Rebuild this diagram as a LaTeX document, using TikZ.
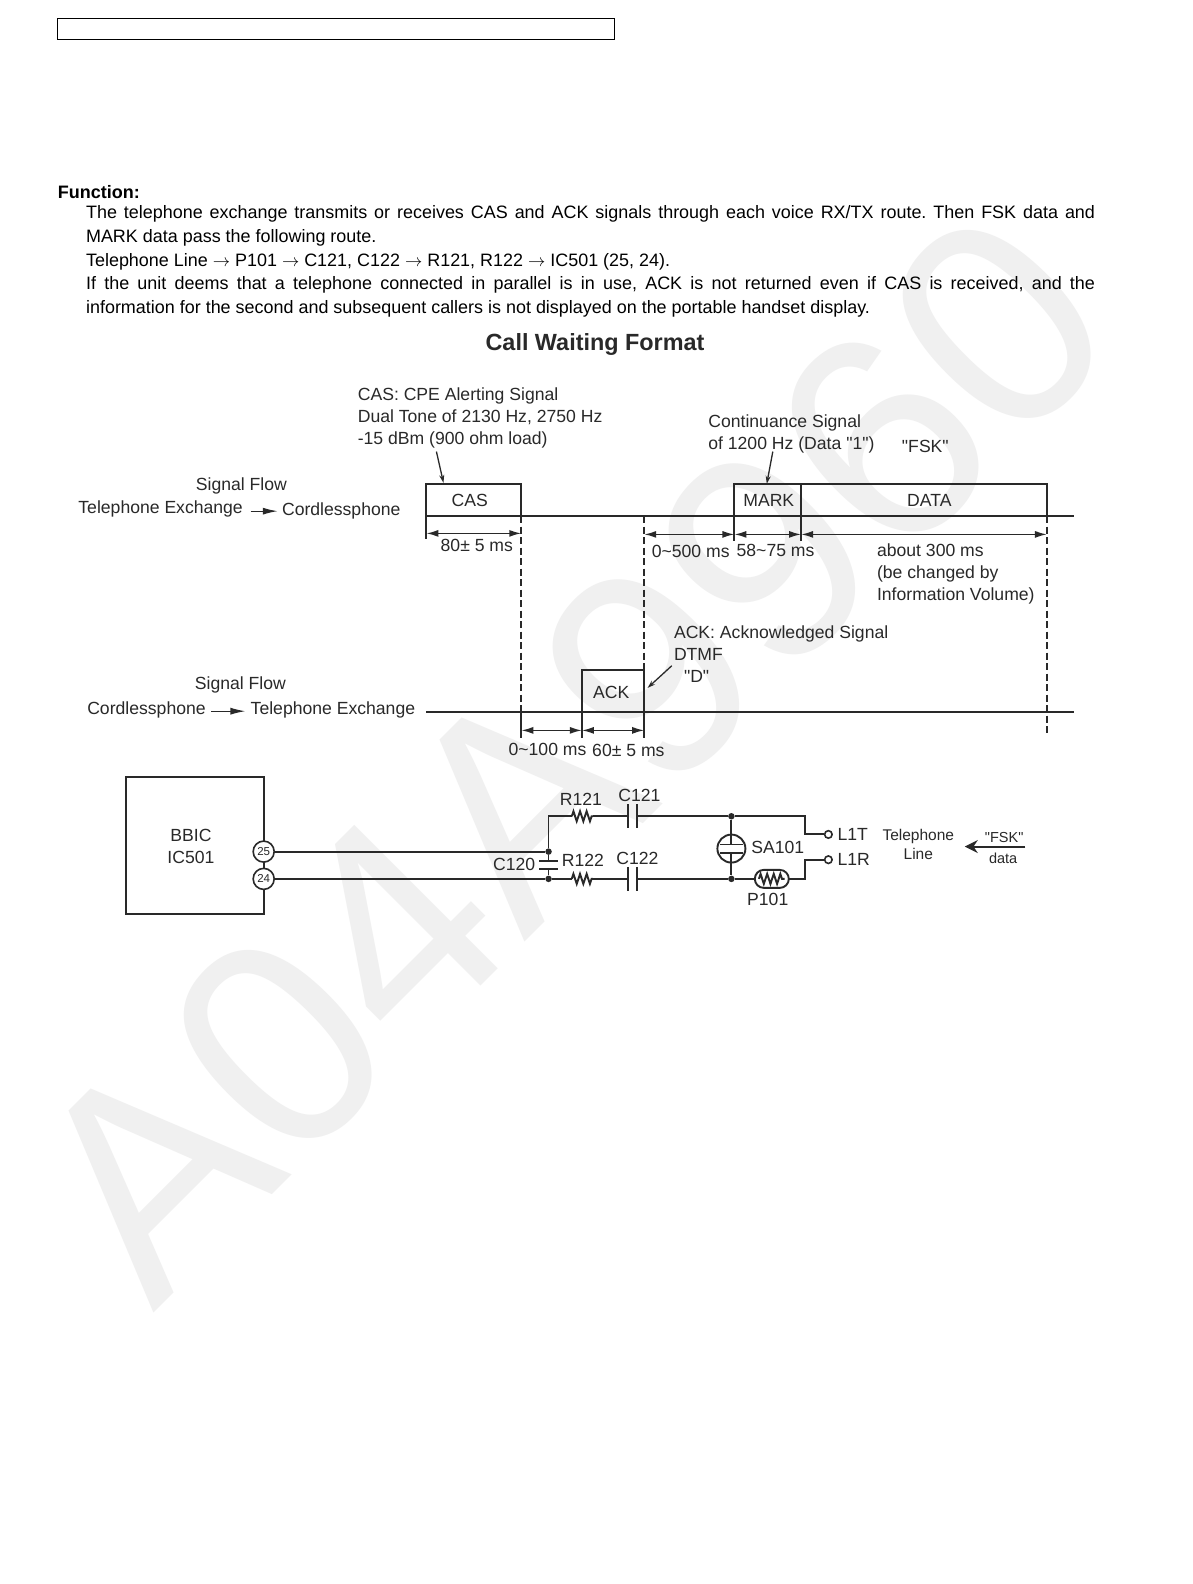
\documentclass[tikz,border=0pt]{standalone}
\usepackage{fontspec}
\setmainfont[Ligatures=TeXOff]{Liberation Sans}
\usetikzlibrary{positioning,arrows.meta,decorations.pathmorphing}
\definecolor{ink}{gray}{0.16}
\definecolor{wmark}{gray}{0.94}
\tikzset{
  lab/.style={font=\fontsize{17.6}{22}\selectfont, inner sep=0pt, align=left, text=ink},
  lab small/.style={font=\fontsize{14.5}{19}\selectfont, inner sep=0pt, align=center, text=ink},
  sig/.style={draw=ink, line width=1.9pt},
  dim/.style={draw=ink, line width=1.6pt, {Latex[length=12pt,width=7pt]}-{Latex[length=12pt,width=7pt]}},
  call/.style={draw=ink, line width=1.3pt, -{Stealth[length=8pt,width=5pt]}},
  wire/.style={draw=ink, line width=1.9pt},
  res/.style={wire, decorate, decoration={zigzag, amplitude=5pt, segment length=6.6pt}},
  pin/.style={circle, draw=ink, line width=1.6pt, fill=white, minimum size=21pt, inner sep=0pt, text=ink, font=\fontsize{11.5}{12}\selectfont},
  dot/.style={circle, fill=ink, minimum size=6.5pt, inner sep=0pt},
  term/.style={circle, draw=ink, line width=1.6pt, fill=white, minimum size=7.5pt, inner sep=0pt},
}
\begin{document}
\begin{tikzpicture}[x=1.0102pt, y=-1.0102pt]
\useasboundingbox (0,0) rectangle (1180,1568);
\fill[white] (0,0) rectangle (1180,1568);
\node[rotate=45, anchor=base west, inner sep=0pt, text=wmark, font=\fontsize{295}{295}\selectfont] (wm) at (152,1300) {A04A9960};
\node[draw, line width=0.9pt, outer sep=0pt, minimum width=556.6pt, minimum height=21.2pt, inner sep=0pt, anchor=north west] (hdr) at (57,18) {};
\node[anchor=west, inner sep=0pt, font=\fontsize{18}{20}\selectfont\bfseries] (func) at (57,190) {Function:};
\node[anchor=north west, inner sep=0pt, text width=1009pt, align=justify, font=\frenchspacing\fontsize{17.95}{23.9}\selectfont] (body) at (85,203) {The telephone exchange transmits or receives CAS and ACK signals through each voice RX/TX route. Then FSK data and\linebreak MARK data pass the following route.\\
Telephone Line $\rightarrow$ P101 $\rightarrow$ C121, C122 $\rightarrow$ R121, R122 $\rightarrow$ IC501 (25, 24).\\
If the unit deems that a telephone connected in parallel is in use, ACK is not returned even if CAS is received, and the\linebreak information for the second and subsequent callers is not displayed on the portable handset display.};
\node[inner sep=0pt, text=ink, font=\fontsize{23.4}{26}\selectfont\bfseries] (title) at (589,341) {Call Waiting Format};
% upper signal
\node[lab, anchor=west] (casnote) at (354,414) {CAS: CPE Alerting Signal\\Dual Tone of 2130 Hz, 2750 Hz\\-15 dBm (900 ohm load)};
\node[lab] (flow1) at (239,481) {Signal Flow};
\node[lab] (te1) at (159,504) {Telephone Exchange};
\node[lab, anchor=west] (cp1) at (279,506) {Cordlessphone};
\node[lab] (cas) at (465,495) {CAS};
\node[lab] (mark) at (761,495) {MARK};
\node[lab] (data) at (920,495) {DATA};
\node[lab, anchor=west] (contnote) at (701,430) {Continuance Signal\\of 1200 Hz (Data "1")};
\node[lab] (fsk1) at (916,442) {"FSK"};
\node[lab] (t80) at (472,540) {80± 5 ms};
\node[lab, anchor=west] (t500) at (645,546) {0\char`~500 ms};
\node[lab, anchor=west] (t58) at (729,545) {58\char`~75 ms};
\node[lab, anchor=west] (t300) at (868,568) {about 300 ms\\(be changed by\\Information Volume)};
% lower signal
\node[lab, anchor=west] (acknote) at (667,648) {ACK: Acknowledged Signal\\DTMF\\\hspace{10pt}"D"};
\node[lab] (flow2) at (238,678) {Signal Flow};
\node[lab] (cp2) at (145,703) {Cordlessphone};
\node[lab, anchor=west] (te2) at (248,703) {Telephone Exchange};
\node[lab] (ack) at (605,685) {ACK};
\node[lab] (t100) at (542,742) {0\char`~100 ms};
\node[lab] (t60) at (622,743) {60± 5 ms};
% time marks
\foreach \n/\x/\y in {casl/422/479,casr/516/479,ackl/576/663,ackr/637.7/663,markl/727/479,markr/793/479,datar/1036.4/479}
  \coordinate (\n) at (\x,\y);
\coordinate (upl) at (422,511); \coordinate (upr) at (1063,511);
\coordinate (lol) at (422,705); \coordinate (lor) at (1063,705);
\coordinate (a1) at (432,447); \coordinate (a2) at (439,478);
\coordinate (a3) at (765,447); \coordinate (a4) at (759,479);
\coordinate (a5) at (665,659); \coordinate (a6) at (641,681);
\coordinate (a7) at (248,506); \coordinate (a8) at (275,506);
\coordinate (a9) at (209,704); \coordinate (a10) at (243,704);
\draw[sig] (casl |- upl) -- (casl) -- (casr) -- (casr |- upl);
\draw[sig] (markl |- upl) -- (markl) -- (datar) -- (datar |- upl);
\draw[sig] (markr) -- (markr |- upl);
\draw[sig] (ackl |- lol) -- (ackl) -- (ackr) -- (ackr |- lol);
\draw[sig] (upl) -- (upr);
\draw[sig] (lol) -- (lor);
\draw[sig] (casl |- upl) -- ++(0,23);
\draw[sig] (markl |- upl) -- ++(0,25);
\draw[sig] (markr |- upl) -- ++(0,25);
\draw[sig, dash pattern=on 7pt off 3.5pt] (casr |- upl) -- (casr |- lol);
\draw[sig, dash pattern=on 7pt off 3.5pt] (ackr |- upl) -- (ackr);
\draw[sig, dash pattern=on 7pt off 3.5pt] (datar |- upl) -- (datar |- lor) -- ++(0,22);
\draw[sig] (casr |- lol) -- ++(0,26);
\draw[sig] (ackl |- lol) -- ++(0,26);
\draw[sig] (ackr |- lol) -- ++(0,26);
\foreach \a/\b/\y in {casl/casr/528,ackr/markl/529,markl/markr/529,markr/datar/529,casr/ackl/723,ackl/ackr/723}
  \draw[dim] (\a |- 0,\y) -- (\b |- 0,\y);
\foreach \a/\b in {a1/a2,a3/a4,a5/a6}
  \draw[call] (\a) -- (\b);
\foreach \a/\b in {a7/a8,a9/a10}
  \draw[call, -{Latex[length=15pt,width=7pt]}] (\a) -- (\b);
% circuit
\node[draw=ink, line width=1.9pt, outer sep=0pt, minimum width=137.4pt, minimum height=137.4pt, inner sep=0pt, anchor=north west] (bbic) at (125,769) {};
\node[lab, align=center] (bbictxt) at (189,838) {BBIC\\IC501};
\node[pin] (p25) at (261,843) {25};
\node[pin] (p24) at (261,870) {24};
\node[dot] (j25) at (543,843) {};
\node[dot] (j24) at (543,870) {};
\node[dot] (jt) at (724,808) {};
\node[dot] (jb) at (724,870) {};
\node[term] (l1t) at (820,826) {};
\node[term] (l1r) at (820,851) {};
\node[circle, draw=ink, line width=1.9pt, minimum size=28pt, inner sep=0pt] (sa) at (724,840) {};
\coordinate (cor1) at (543,808); \coordinate (cor2) at (797,808); \coordinate (cor3) at (797,826);
\coordinate (cor4) at (797,870); \coordinate (cor5) at (797,851);
\foreach \n/\xa/\xb/\y in {r121/566/587/808,r122/566/587/870}{
  \coordinate (\n a) at (\xa,\y); \coordinate (\n b) at (\xb,\y);
}
\draw[wire] (p25) -- (j25) -- (cor1) -- (r121a);
\draw[res] (r121a) -- (r121b);
\draw[wire] (r121b) -- (622,808);
\draw[wire] (622,796) -- (622,820);
\draw[wire] (631,796) -- (631,820);
\draw[wire] (631,808) -- (jt) -- (cor2) -- (cor3) -- (l1t);
\draw[wire] (p24) -- (j24) -- (r122a);
\draw[res] (r122a) -- (r122b);
\draw[wire] (r122b) -- (622,870);
\draw[wire] (622,858) -- (622,882);
\draw[wire] (631,858) -- (631,882);
\draw[wire] (631,870) -- (jb) -- (747,870);
\draw[wire] (781,870) -- (cor4) -- (cor5) -- (l1r);
% C120
\draw[wire] (j25) -- (543,852);
\draw[wire] (534,852) -- (552,852);
\draw[wire] (534,860) -- (552,860);
\draw[wire] (543,860) -- (j24);
% SA101
\draw[wire] (jt) -- (724,836);
\draw[wire] (713,836) -- (735,836);
\draw[wire] (713,844) -- (735,844);
\draw[wire] (724,844) -- (jb);
% P101
\node[draw=ink, line width=1.9pt, rounded corners=9pt, fill=white, minimum width=34pt, minimum height=18pt, inner sep=0pt] (p101) at (764,870) {};
\draw[res] (p101.west) ++(5,0) coordinate (p1a) (p101.east) ++(-5,0) coordinate (p1b) (p1a) -- (p1b);
\foreach \n/\x/\y/\t in {lr121/575/791/R121,lc121/633/787/C121,lc120/509/856/C120,lr122/577/852/R122,lc122/631/850/C122,lsa/770/839/SA101,lp101/760/890/P101}
  \node[lab] (\n) at (\x,\y) {\t};
\node[lab, anchor=west] (ll1t) at (829,826) {L1T};
\node[lab, anchor=west] (ll1r) at (829,851) {L1R};
\node[lab small, font=\fontsize{15.5}{19}\selectfont] (telline) at (909,836) {Telephone\\Line};
\node[lab small] (fsk2) at (994,829) {"FSK"};
\node[lab small] (fskdata) at (993,850) {data};
\coordinate (f1) at (1015,838); \coordinate (f2) at (955,838);
\draw[wire, -{Stealth[length=13pt,width=13pt]}] (f1) -- (f2);
\end{tikzpicture}
\end{document}
